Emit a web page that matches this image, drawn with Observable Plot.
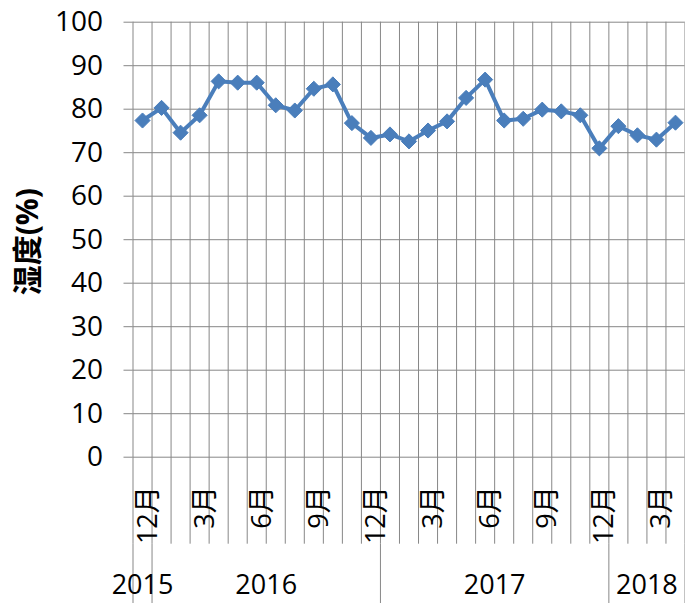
<!DOCTYPE html>
<html>
<head>
<meta charset="utf-8">
<script src="https://cdn.jsdelivr.net/npm/d3@7"></script>
<script src="https://cdn.jsdelivr.net/npm/@observablehq/plot@0.6"></script>
<style>
  html, body { margin: 0; padding: 0; background: #fff; }
  #chart svg { display: block; }
</style>
</head>
<body>
<div id="chart"></div>
<script>
// Categories: Dec 2015 .. Apr 2018
const months = [12, 1, 2, 3, 4, 5, 6, 7, 8, 9, 10, 11, 12, 1, 2, 3, 4, 5, 6, 7, 8, 9, 10, 11, 12, 1, 2, 3, 4];
const years = [2015, 2016, 2016, 2016, 2016, 2016, 2016, 2016, 2016, 2016, 2016, 2016, 2016,
  2017, 2017, 2017, 2017, 2017, 2017, 2017, 2017, 2017, 2017, 2017, 2017, 2018, 2018, 2018, 2018];
// Humidity (%)
const humidity = [77.4, 80.3, 74.6, 78.6, 86.4, 86.1, 86.1, 80.9, 79.7, 84.7, 85.7, 76.8, 73.4,
  74.2, 72.6, 75.1, 77.2, 82.6, 86.8, 77.4, 77.8, 79.9, 79.5, 78.6, 71.0, 76.1, 74.0, 73.0, 76.9];
const yTicks = [0, 10, 20, 30, 40, 50, 60, 70, 80, 90, 100];
const yTitle = "湿度(%)";
const monthSuffix = "月";

const data = humidity.map((v, i) => ({i, month: months[i], year: years[i], value: v}));
const labeled = data.filter(d => d.i % 3 === 0);
const boundaries = d3.range(-0.5, data.length, 1);
// year groups
const groups = [];
data.forEach(d => {
  const g = groups[groups.length - 1];
  if (g && g.year === d.year) g.end = d.i; else groups.push({year: d.year, start: d.i, end: d.i});
});
const yearBounds = [-0.5, ...groups.map(g => g.end + 0.5)];

const FONT = '"Open Sans", "Noto Sans CJK SC", sans-serif';
const GRID = "#878787";
const BLUE = "#4a7ebb";

const chart = Plot.plot({
  width: 685,
  height: 603,
  marginLeft: 132.5,
  marginRight: 0.5,
  marginTop: 21.7,
  marginBottom: 146.3,
  style: {fontFamily: FONT, fontSize: "27px", background: "#fff", color: "#000"},
  x: {type: "linear", domain: [-0.5, data.length - 0.5], axis: null},
  y: {domain: [0, 100], axis: null},
  marks: [
    Plot.ruleY(yTicks, {stroke: GRID, strokeWidth: 1}),
    Plot.ruleX(boundaries, {y1: -20, y2: 100, stroke: GRID, strokeWidth: 1}),
    Plot.ruleX(yearBounds, {y1: -34, y2: -20, stroke: GRID, strokeWidth: 1}),
    Plot.axisY({ticks: yTicks, tickSize: 9, tickPadding: 21, stroke: GRID, fontSize: 28, label: null, fill: "#000"}),
    Plot.line(data, {x: "i", y: "value", stroke: BLUE, strokeWidth: 4}),
    Plot.dot(data, {x: "i", y: "value", symbol: "diamond2", r: 6.8, fill: BLUE, stroke: BLUE, strokeWidth: 1}),
    Plot.text(labeled, {x: "i", text: d => d.month + monthSuffix, frameAnchor: "bottom", rotate: -90,
      textAnchor: "end", dy: 29, dx: 14, fontSize: 27, fill: "#000"}),
    Plot.text(groups, {x: g => (g.start + g.end) / 2, text: g => String(g.year), frameAnchor: "bottom",
      dy: 137, fontSize: 27, fill: "#000"}),
    Plot.text([yTitle], {frameAnchor: "left", textAnchor: "middle", dx: -105, dy: 2, rotate: -90,
      fontSize: 30, fontWeight: "bold", fill: "#000"})
  ]
});
document.getElementById("chart").append(chart);
</script>
</body>
</html>
